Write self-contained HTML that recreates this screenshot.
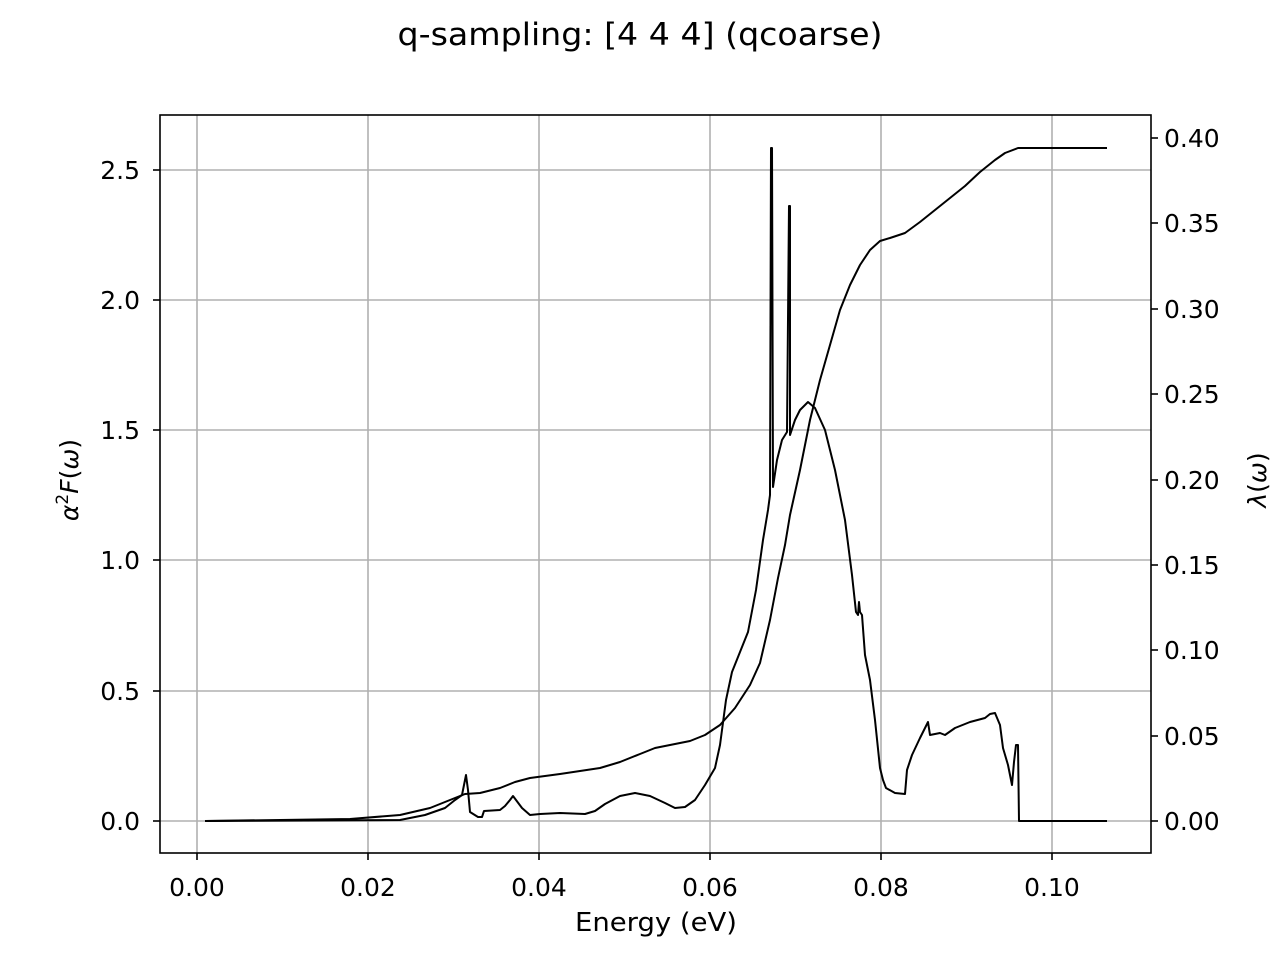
<!DOCTYPE html>
<html><head><meta charset="utf-8"><style>body{margin:0;background:#fff}svg{display:block}text{font-family:"DejaVu Sans","Liberation Sans",sans-serif;fill:#000}</style></head><body>
<svg width="1280" height="960" viewBox="0 0 1280 960" xmlns="http://www.w3.org/2000/svg">
<text x="640" y="45" font-size="31" text-anchor="middle" textLength="485" lengthAdjust="spacingAndGlyphs">q-sampling: [4 4 4] (qcoarse)</text>
<g stroke="#b0b0b0" stroke-width="1.6">
<line x1="197" y1="115" x2="197" y2="853"/><line x1="368" y1="115" x2="368" y2="853"/><line x1="539" y1="115" x2="539" y2="853"/><line x1="710" y1="115" x2="710" y2="853"/><line x1="881" y1="115" x2="881" y2="853"/><line x1="1052" y1="115" x2="1052" y2="853"/>
<line x1="160" y1="821" x2="1151" y2="821"/><line x1="160" y1="691" x2="1151" y2="691"/><line x1="160" y1="560" x2="1151" y2="560"/><line x1="160" y1="430" x2="1151" y2="430"/><line x1="160" y1="300" x2="1151" y2="300"/><line x1="160" y1="170" x2="1151" y2="170"/>
</g>
<g fill="none" stroke="#000" stroke-width="2" stroke-linejoin="round">
<polyline points="205,821 400,820 425,815 445,808 455,800 462,795 466,775 468,790 470,812 478,817 482,817 484,811 500,810 505,806 510,800 513,796 516,800 522,808 530,815 540,814 560,813 585,814 595,811 605,804 620,796 635,793 650,796 665,803 675,808 685,807 695,800 705,785 715,768 720,745 726,700 732,672 740,652 748,632 756,590 763,540 768,510 770,495 771,148 772,148 773,487 777,460 782,440 787,432 789,206 790,206 790,435 795,420 800,410 808,402 815,408 825,430 835,470 845,520 852,575 856,612 858,615 859,602 860,612 862,615 865,655 870,680 875,720 880,768 883,780 886,788 895,793 905,794 907,770 912,755 920,738 926,726 928,722 930,735 935,734 940,733 945,735 955,728 970,722 985,718 990,714 995,713 1000,725 1003,748 1008,765 1012,785 1014,762 1016,745 1018,745 1019,821 1107,821"/>
<polyline points="205,821 350,819 400,815 430,808 450,800 465,794 480,793 500,788 515,782 530,778 560,774 600,768 620,762 640,754 655,748 670,745 690,741 705,735 720,725 735,708 750,685 760,663 770,620 778,578 785,545 790,515 800,470 810,420 820,380 830,345 840,310 850,285 860,265 870,250 880,241 890,238 905,233 920,222 935,210 950,198 965,186 980,172 995,160 1005,153 1018,148 1107,148"/>
</g>
<rect x="160" y="115" width="991" height="738" fill="none" stroke="#000" stroke-width="1.6"/>
<g stroke="#000" stroke-width="1.6">
<line x1="197" y1="853" x2="197" y2="860"/><line x1="368" y1="853" x2="368" y2="860"/><line x1="539" y1="853" x2="539" y2="860"/><line x1="710" y1="853" x2="710" y2="860"/><line x1="881" y1="853" x2="881" y2="860"/><line x1="1052" y1="853" x2="1052" y2="860"/>
<line x1="153" y1="821" x2="160" y2="821"/><line x1="153" y1="691" x2="160" y2="691"/><line x1="153" y1="560" x2="160" y2="560"/><line x1="153" y1="430" x2="160" y2="430"/><line x1="153" y1="300" x2="160" y2="300"/><line x1="153" y1="170" x2="160" y2="170"/>
<line x1="1151" y1="821" x2="1158" y2="821"/><line x1="1151" y1="736" x2="1158" y2="736"/><line x1="1151" y1="650" x2="1158" y2="650"/><line x1="1151" y1="565" x2="1158" y2="565"/><line x1="1151" y1="480" x2="1158" y2="480"/><line x1="1151" y1="394" x2="1158" y2="394"/><line x1="1151" y1="309" x2="1158" y2="309"/><line x1="1151" y1="223" x2="1158" y2="223"/><line x1="1151" y1="138" x2="1158" y2="138"/>
</g>
<g font-size="25" text-anchor="middle">
<text x="197" y="896">0.00</text><text x="368" y="896">0.02</text><text x="539" y="896">0.04</text><text x="710" y="896">0.06</text><text x="881" y="896">0.08</text><text x="1052" y="896">0.10</text>
<text x="656" y="931" font-size="26" textLength="162" lengthAdjust="spacingAndGlyphs">Energy (eV)</text>
</g>
<g font-size="25" text-anchor="end">
<text x="140" y="830">0.0</text><text x="140" y="700">0.5</text><text x="140" y="569">1.0</text><text x="140" y="439">1.5</text><text x="140" y="309">2.0</text><text x="140" y="179">2.5</text>
</g>
<g font-size="25">
<text x="1164" y="830">0.00</text><text x="1164" y="745">0.05</text><text x="1164" y="659">0.10</text><text x="1164" y="574">0.15</text><text x="1164" y="489">0.20</text><text x="1164" y="403">0.25</text><text x="1164" y="318">0.30</text><text x="1164" y="232">0.35</text><text x="1164" y="147">0.40</text>
</g>
<text transform="translate(78,480) rotate(-90)" font-size="25" text-anchor="middle"><tspan font-style="italic">α</tspan><tspan dy="-10" font-size="17">2</tspan><tspan dy="10" font-style="italic">F</tspan>(<tspan font-style="italic">ω</tspan>)</text>
<text transform="translate(1266,480) rotate(-90)" font-size="25" text-anchor="middle"><tspan font-style="italic">λ</tspan>(<tspan font-style="italic">ω</tspan>)</text>
</svg>
</body></html>
